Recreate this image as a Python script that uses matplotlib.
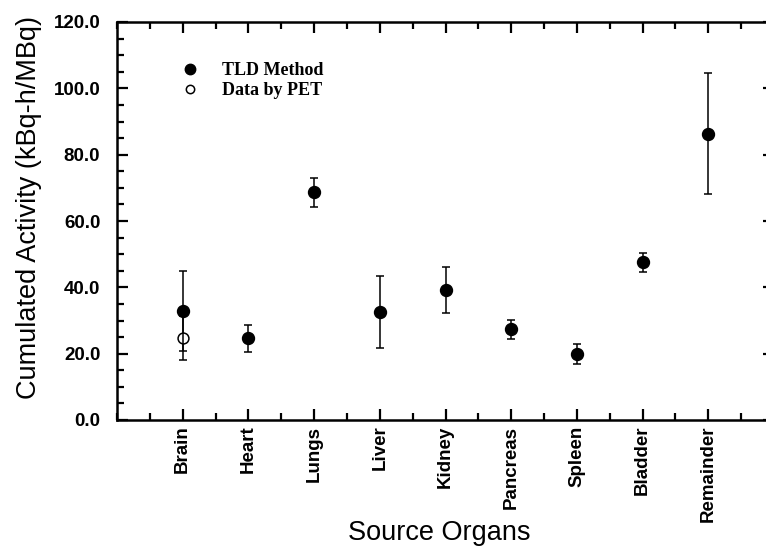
import matplotlib
matplotlib.use("Agg")
import matplotlib.pyplot as plt
from matplotlib.ticker import MultipleLocator, FormatStrFormatter
from matplotlib.lines import Line2D
import numpy as np

organs = ["Brain", "Heart", "Lungs", "Liver", "Kidney", "Pancreas", "Spleen", "Bladder", "Remainder"]
tld_values = [32.9, 24.6, 68.6, 32.5, 39.2, 27.4, 19.9, 47.5, 86.3]
tld_errors = [12.1, 4.0, 4.4, 10.8, 6.8, 2.9, 3.1, 2.8, 18.3]
pet_organs = ["Brain"]
pet_values = [24.7]
pet_errors = [6.6]

fig = plt.figure(figsize=(7.66, 5.46), dpi=100)
ax = fig.add_axes([117/766, (546-420)/546, 657/766, 398/546])

x = np.arange(1, len(organs) + 1)
xpet = [organs.index(o) + 1 for o in pet_organs]

ax.errorbar(xpet, pet_values, yerr=pet_errors, fmt='o', color='black',
            markerfacecolor='white', markeredgecolor='black', markersize=7.8,
            markeredgewidth=1.1, elinewidth=1.1, capsize=2.8, capthick=1.1,
            zorder=3)
ax.errorbar(x, tld_values, yerr=tld_errors, fmt='o', color='black',
            markersize=8.6, elinewidth=1.1, capsize=2.8, capthick=1.1,
            zorder=4)

ax.set_xlim(0, 10)
ax.set_ylim(0, 120)
ax.set_xticks(x)
ax.set_xticklabels(organs, rotation=90, fontsize=13.5, fontweight='bold',
                   family='Liberation Sans')
ax.xaxis.set_minor_locator(MultipleLocator(0.5))
ax.yaxis.set_major_locator(MultipleLocator(20))
ax.yaxis.set_minor_locator(MultipleLocator(5))
ax.yaxis.set_major_formatter(FormatStrFormatter('%.1f'))
for lbl in ax.get_yticklabels():
    lbl.set_fontweight('bold')
    lbl.set_fontsize(13.5)
    lbl.set_family('Liberation Sans')

ax.tick_params(which='both', direction='in', top=True, right=True, width=1.6, color='black')
ax.tick_params(which='major', length=8)
ax.tick_params(which='minor', length=5)
ax.tick_params(axis='y', which='major', pad=12)
ax.tick_params(axis='x', which='major', pad=4)
for sp in ax.spines.values():
    sp.set_linewidth(1.8)

ax.set_ylabel("Cumulated Activity (kBq-h/MBq)", fontsize=19.5, family='Liberation Sans')
ax.yaxis.set_label_coords(-0.114, 0.535)
ax.set_xlabel("Source Organs", fontsize=19.5, family='Liberation Sans')
ax.xaxis.set_label_coords(0.49, -0.25)

legend_handles = [
    Line2D([], [], linestyle='none', marker='o', color='black', markersize=7.5),
    Line2D([], [], linestyle='none', marker='o', markerfacecolor='white',
           markeredgecolor='black', markersize=6.0, markeredgewidth=1.1),
]
legend_labels = ["TLD Method", "Data by PET"]
leg = ax.legend(legend_handles, legend_labels,
                loc='upper left', bbox_to_anchor=(0.072, 0.94), frameon=False,
                prop={'family': 'Liberation Serif', 'weight': 'bold', 'size': 13},
                handletextpad=1.3, labelspacing=0.15, handlelength=1.0,
                numpoints=1)

fig.savefig("out.png", dpi=100, facecolor='white')
